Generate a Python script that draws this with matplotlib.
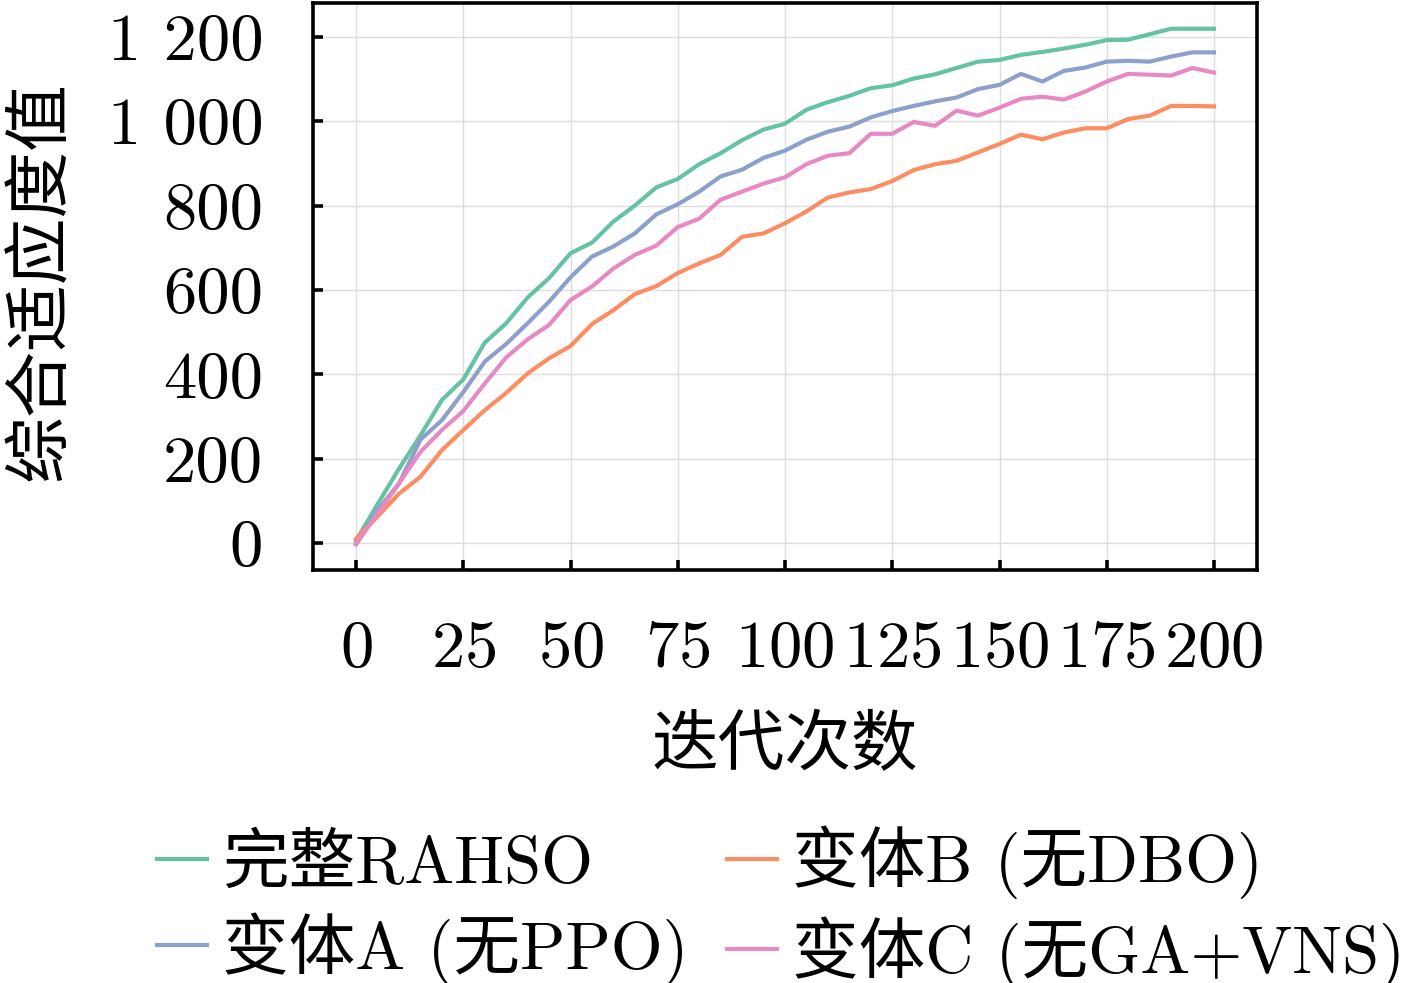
import matplotlib
matplotlib.use("Agg")
import matplotlib.pyplot as plt
from matplotlib.ticker import FuncFormatter

plt.rcParams['font.family'] = ['cmr10', 'Noto Sans CJK SC', 'DejaVu Sans']
plt.rcParams['axes.formatter.use_mathtext'] = True

iters = list(range(0, 201, 5))

full_rahso = [6, 92, 176, 255, 339, 388, 475, 521, 582, 628, 687, 712, 762, 800, 843, 863,
              898, 924, 955, 980, 994, 1027, 1045, 1060, 1078, 1085, 1101, 1111, 1126, 1141,
              1145, 1157, 1164, 1172, 1181, 1192, 1193, 1206, 1219, 1219, 1219]
variant_a = [-2, 78, 141, 245, 291, 358, 430, 472, 521, 572, 630, 679, 703, 734, 779, 803,
             833, 869, 885, 913, 930, 956, 975, 987, 1009, 1024, 1036, 1047, 1056, 1076,
             1086, 1112, 1094, 1119, 1127, 1141, 1143, 1141, 1153, 1163, 1163]
variant_b = [10, 63, 117, 157, 220, 268, 315, 356, 402, 438, 467, 519, 552, 590, 609, 640,
             663, 683, 726, 734, 758, 786, 819, 831, 839, 858, 884, 898, 906, 926,
             946, 968, 957, 973, 983, 983, 1005, 1013, 1036, 1036, 1035]
variant_c = [-3, 70, 141, 216, 268, 313, 378, 440, 483, 517, 576, 608, 651, 683, 705, 749,
             769, 814, 833, 852, 867, 898, 918, 924, 970, 970, 998, 989, 1025, 1013,
             1032, 1053, 1058, 1051, 1070, 1094, 1112, 1110, 1108, 1126, 1115]

labels = ['完整RAHSO', '变体A (无PPO)', '变体B (无DBO)', '变体C (无GA+VNS)']
colors = ['#66c2a5', '#8da0cb', '#fc8d62', '#e78ac3']
series = [full_rahso, variant_a, variant_b, variant_c]

fig = plt.figure(figsize=(14.17, 9.83), dpi=100)
ax = fig.add_axes([0.221, 0.42, 0.666, 0.577])

lines = []
for vals, c, lab in zip(series, colors, labels):
    ln, = ax.plot(iters, vals, color=c, lw=3.0, label=lab)
    lines.append(ln)

ax.set_xticks([0, 25, 50, 75, 100, 125, 150, 175, 200])
ax.set_yticks([0, 200, 400, 600, 800, 1000, 1200])
ax.yaxis.set_major_formatter(FuncFormatter(
    lambda v, p: f"{int(v):,}".replace(",", " ")))
ax.grid(True, color='#dddddd', lw=1.0)
ax.set_axisbelow(True)

for s in ax.spines.values():
    s.set_linewidth(2.6)
ax.tick_params(direction='in', length=7, width=2.6, labelsize=48, pad=36)

ax.set_xlabel('迭代次数', fontsize=48, labelpad=26)
ax.set_ylabel('综合适应度值', fontsize=48, labelpad=0)
ax.yaxis.set_label_coords(-0.255, 0.51)

fig.legend(handles=lines, loc='upper center', bbox_to_anchor=(0.551, 0.221),
           ncol=2, frameon=False, fontsize=48, handlelength=0.75,
           handletextpad=0.22, columnspacing=0.58, labelspacing=0.25)

fig.savefig('out.png', dpi=100)
